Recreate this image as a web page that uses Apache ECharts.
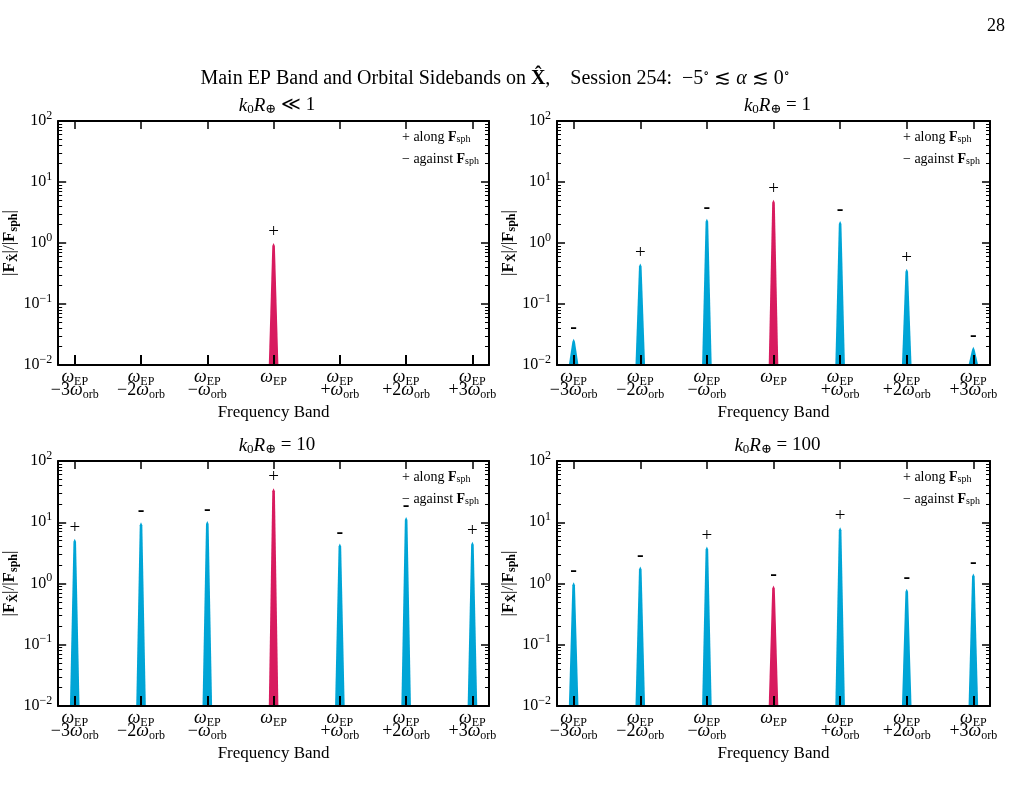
<!DOCTYPE html>
<html>
<head>
<meta charset="utf-8">
<script src="https://cdn.jsdelivr.net/npm/echarts@6/dist/echarts.min.js"></script>
<style>
  html, body { margin: 0; padding: 0; background: #fff; }
  #main { width: 1016px; height: 800px; }
</style>
</head>
<body>
<div id="main"></div>
<script>
// frequency bands (in units of w_orb away from w_EP)
var bands = [-3, -2, -1, 0, 1, 2, 3];
var bandLabels = [
  '{w|ω}{s|EP}\n{n|−3}{w|ω}{s|orb}',
  '{w|ω}{s|EP}\n{n|−2}{w|ω}{s|orb}',
  '{w|ω}{s|EP}\n{n|−}{w|ω}{s|orb}',
  '{w|ω}{s|EP}',
  '{w|ω}{s|EP}\n{n|+}{w|ω}{s|orb}',
  '{w|ω}{s|EP}\n{n|+2}{w|ω}{s|orb}',
  '{w|ω}{s|EP}\n{n|+3}{w|ω}{s|orb}'
];
var yTicks = [0.01, 0.1, 1, 10, 100];
var minorMult = [2, 3, 4, 5, 6, 7, 8, 9];

// |F_X| / |F_sph| per band, for each k0 R
var valsA = [null, null, null, 1.0, null, null, null];
var signsA = ['', '', '', '+', '', '', ''];
var valsB = [0.027, 0.46, 2.5, 5.1, 2.3, 0.38, 0.020];
var signsB = ['-', '+', '-', '+', '-', '+', '-'];
var valsC = [5.4, 10.0, 10.5, 36, 4.5, 12.2, 4.8];
var signsC = ['+', '-', '-', '+', '-', '-', '+'];
var valsD = [1.05, 1.9, 4.0, 0.93, 8.3, 0.82, 1.45];
var signsD = ['-', '-', '+', '-', '+', '-', '-'];

var panelTitles = [
  '{i|k}{s|0}{i|R}{s|⊕} ≪ 1',
  '{i|k}{s|0}{i|R}{s|⊕} = 1',
  '{i|k}{s|0}{i|R}{s|⊕} = 10',
  '{i|k}{s|0}{i|R}{s|⊕} = 100'
];
var panelVals = [valsA, valsB, valsC, valsD];
var panelSigns = [signsA, signsB, signsC, signsD];

var serif = '"Liberation Serif", "DejaVu Serif", serif';
var blue = '#00a5d6';
var red = '#d81b5f';

var minorTicks = [];
[0.01, 0.1, 1, 10].forEach(function (d) {
  minorMult.forEach(function (m) { minorTicks.push(+(m * d).toPrecision(3)); });
});

var grids = [
  { left: 57, top: 121, width: 432, height: 244 },
  { left: 557, top: 121, width: 433, height: 244 },
  { left: 57, top: 461, width: 432, height: 245 },
  { left: 557, top: 461, width: 433, height: 245 }
];

function expLabel(v) {
  var e = Math.round(Math.log10(v));
  var es = e < 0 ? '−' + (-e) : '' + e;
  return '{b|10}{p|' + es + '}';
}

var xAxes = [], yAxes = [], series = [], titles = [], graphics = [];

grids.forEach(function (g, k) {
  // bottom x axis
  xAxes.push({
    gridIndex: k, type: 'value', min: -3.25, max: 3.25, z: 10,
    name: 'Frequency Band', nameLocation: 'middle', nameGap: 39,
    nameTextStyle: { fontFamily: serif, fontSize: 17, color: '#000' },
    axisLine: { onZero: false, lineStyle: { color: '#000', width: 2 } },
    axisTick: { inside: true, length: 10, lineStyle: { color: '#000', width: 2 }, customValues: bands },
    axisLabel: {
      customValues: bands, margin: 6, color: '#000', fontFamily: serif, lineHeight: 13,
      formatter: function (v) { return bandLabels[bands.indexOf(Math.round(v))]; },
      rich: {
        w: { fontFamily: serif, fontStyle: 'italic', fontSize: 18, lineHeight: 13 },
        s: { fontFamily: serif, fontSize: 12, lineHeight: 13, padding: [8, 0, 0, 0] },
        n: { fontFamily: serif, fontSize: 18, lineHeight: 13 }
      }
    },
    splitLine: { show: false }
  });
  // top x axis (ticks only)
  xAxes.push({
    gridIndex: k, type: 'value', position: 'top', min: -3.25, max: 3.25, z: 10,
    axisLine: { onZero: false, lineStyle: { color: '#000', width: 2 } },
    axisTick: { inside: true, length: 8, lineStyle: { color: '#000', width: 1.5 }, customValues: bands },
    axisLabel: { show: false }, splitLine: { show: false }
  });
  var yBase = { gridIndex: k, type: 'log', min: 0.01, max: 100, logBase: 10, z: 10, splitLine: { show: false } };
  // left major
  yAxes.push(Object.assign({}, yBase, {
    position: 'left',
    name: '|{f|F}{x|X̂}|/|{f|F}{x|sph}|', nameLocation: 'middle', nameGap: 36, nameRotate: 90,
    nameTextStyle: {
      fontFamily: serif, fontSize: 17, color: '#000',
      rich: {
        f: { fontFamily: serif, fontSize: 17, fontWeight: 'bold' },
        x: { fontFamily: serif, fontSize: 12, fontWeight: 'bold', padding: [8, 0, 0, 0] }
      }
    },
    axisLine: { onZero: false, lineStyle: { color: '#000', width: 2 } },
    axisTick: { inside: true, length: 8, lineStyle: { color: '#000', width: 1.5 }, customValues: yTicks },
    axisLabel: {
      customValues: yTicks, margin: 6, formatter: expLabel, color: '#000',
      rich: {
        b: { fontFamily: serif, fontSize: 16 },
        p: { fontFamily: serif, fontSize: 12, padding: [0, 0, 11, 0] }
      }
    }
  }));
  // left minor
  yAxes.push(Object.assign({}, yBase, {
    position: 'left',
    axisLine: { show: false, onZero: false },
    axisTick: { inside: true, length: 4, lineStyle: { color: '#000', width: 1 }, customValues: minorTicks },
    axisLabel: { show: false }
  }));
  // right major
  yAxes.push(Object.assign({}, yBase, {
    position: 'right',
    axisLine: { onZero: false, lineStyle: { color: '#000', width: 2 } },
    axisTick: { inside: true, length: 8, lineStyle: { color: '#000', width: 1.5 }, customValues: yTicks },
    axisLabel: { show: false }
  }));
  // right minor
  yAxes.push(Object.assign({}, yBase, {
    position: 'right',
    axisLine: { show: false, onZero: false },
    axisTick: { inside: true, length: 4, lineStyle: { color: '#000', width: 1 }, customValues: minorTicks },
    axisLabel: { show: false }
  }));

  var vals = panelVals[k], signs = panelSigns[k];
  var data = [];
  bands.forEach(function (b, i) {
    if (vals[i] != null) data.push({ value: [b, vals[i]], sign: signs[i] });
  });
  series.push({
    type: 'custom', xAxisIndex: 2 * k, yAxisIndex: 4 * k, z: 2,
    data: data,
    renderItem: function (params, api) {
      var x = api.value(0), y = api.value(1);
      var top = api.coord([x, y]);
      var base = api.coord([x, 0.01]);
      var c = x === 0 ? red : blue;
      var sign = data[params.dataIndex].sign;
      return {
        type: 'group',
        children: [
          {
            type: 'polygon',
            shape: { points: [
              [top[0] - 4.8, base[1]], [top[0] - 1.3, top[1] + 3], [top[0], top[1]],
              [top[0] + 1.3, top[1] + 3], [top[0] + 4.8, base[1]]
            ] },
            style: { fill: c }
          },
          {
            type: 'text',
            style: {
              text: sign === '-' ? '-' : '+', x: top[0], y: top[1] - 11,
              align: 'center', verticalAlign: 'middle',
              font: (sign === '-' ? 'bold 20px ' : '19px ') + serif, fill: '#000'
            }
          }
        ]
      };
    }
  });

  titles.push({
    text: panelTitles[k], left: g.left + g.width / 2 - 1, top: g.top - 31, textAlign: 'center',
    textStyle: {
      fontFamily: serif, fontSize: 19, fontWeight: 'normal', color: '#000',
      rich: {
        i: { fontFamily: serif, fontSize: 19, fontStyle: 'italic' },
        s: { fontFamily: serif, fontSize: 13, padding: [8, 0, 0, 0] }
      }
    }
  });

  var lx = g.left + g.width - 87;
  var legRich = {
    f: { fontFamily: serif, fontSize: 14, fontWeight: 'bold' },
    s: { fontFamily: serif, fontSize: 10, padding: [4, 0, 0, 0] }
  };
  graphics.push({
    type: 'text', left: lx, top: g.top + 9, z: 20,
    style: { text: '+ along {f|F}{s|sph}', font: '14px ' + serif, fill: '#000', rich: legRich }
  });
  graphics.push({
    type: 'text', left: lx, top: g.top + 31, z: 20,
    style: { text: '− against {f|F}{s|sph}', font: '14px ' + serif, fill: '#000', rich: legRich }
  });
});

titles.push({
  text: 'Main EP Band and Orbital Sidebands on {b|X̂},    Session 254:  −5{p|∘} ≲ {i|α} ≲ 0{p|∘}',
  left: 490, top: 63, textAlign: 'center',
  textStyle: {
    fontFamily: serif, fontSize: 20, fontWeight: 'normal', color: '#000',
    rich: {
      b: { fontFamily: serif, fontSize: 20, fontWeight: 'bold' },
      i: { fontFamily: serif, fontSize: 20, fontStyle: 'italic' },
      p: { fontFamily: serif, fontSize: 12, padding: [0, 0, 9, 0] }
    }
  }
});
titles.push({
  text: '28', right: 6, top: 12,
  textStyle: { fontFamily: serif, fontSize: 18, fontWeight: 'normal', color: '#000' }
});

var chart = echarts.init(document.getElementById('main'));
chart.setOption({
  animation: false,
  backgroundColor: '#fff',
  title: titles,
  grid: grids,
  xAxis: xAxes,
  yAxis: yAxes,
  series: series,
  graphic: graphics
});
</script>
</body>
</html>
